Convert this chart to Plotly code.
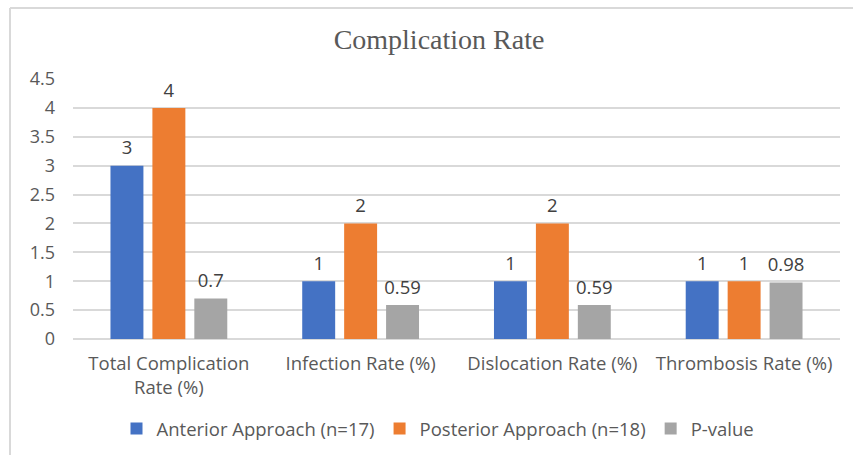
import plotly.graph_objects as go

categories = ["Total Complication<br>Rate (%)", "Infection Rate (%)", "Dislocation Rate (%)", "Thrombosis Rate (%)"]
anterior = [3, 1, 1, 1]
posterior = [4, 2, 2, 1]
p_value = [0.7, 0.59, 0.59, 0.98]
series_names = ["Anterior Approach (n=17)", "Posterior Approach (n=18)", "P-value"]
colors = ["#4472C4", "#ED7D31", "#A5A5A5"]
y_ticks = [0, 0.5, 1, 1.5, 2, 2.5, 3, 3.5, 4, 4.5]

W, H = 853, 455
ML, MR, MT, MB = 73, 13, 79, 116
PW, PH = W - ML - MR, H - MT - MB

font_main = "Open Sans, Segoe UI, Arial, sans-serif"
FS = 18.5

fig = go.Figure()
all_series = [anterior, posterior, p_value]
for name, vals, col in zip(series_names, all_series, colors):
    fig.add_trace(go.Bar(
        x=categories, y=vals, name=name, marker=dict(color=col, line=dict(width=0)),
        offsetgroup=name,
    ))
# value labels, placed with the grouped scatter so they sit above each bar
for name, vals in zip(series_names, all_series):
    fig.add_trace(go.Scatter(
        x=categories, y=vals, mode="markers+text", text=[f"{v:g}" for v in vals],
        textposition="top center", offsetgroup=name, showlegend=False, hoverinfo="skip",
        marker=dict(size=9, opacity=0),
        textfont=dict(family=font_main, size=FS, color="#404040"),
        cliponaxis=False,
    ))

fig.update_layout(
    width=W, height=H,
    margin=dict(l=ML, r=MR, t=MT, b=MB, autoexpand=False),
    paper_bgcolor="white", plot_bgcolor="white",
    barmode="group", scattermode="group",
    bargap=0.344, bargroupgap=0.214, scattergap=0.344,
    title=dict(text="Complication Rate", x=439 / W, xanchor="center", y=1 - 39 / H, yanchor="middle",
               font=dict(family="Liberation Serif, Times New Roman, serif", size=28, color="#595959")),
    font=dict(family=font_main, size=FS, color="#595959"),
    legend=dict(orientation="h", x=(438 - ML) / PW, xanchor="center", y=-(429 - (MT + PH)) / PH, yanchor="middle",
                font=dict(family=font_main, size=FS, color="#595959"), traceorder="normal",
                itemwidth=30),
    showlegend=True,
)
fig.update_xaxes(showgrid=False, showline=False, ticks="", ticklabelstandoff=11,
                 tickfont=dict(size=FS, color="#595959"))
fig.update_yaxes(range=[0, 4.5], tickvals=y_ticks, ticktext=[f"{v:g}" for v in y_ticks],
                 showgrid=True, gridcolor="#D9D9D9", gridwidth=1.5, zeroline=True, zerolinecolor="#D9D9D9",
                 zerolinewidth=1.5, showline=False, ticks="", ticklabelstandoff=17,
                 tickfont=dict(size=18, color="#595959"))

# chart frame (left and top edges visible in the original)
fx0 = (10 - ML) / PW
fy1 = 1 + (MT - 8) / PH
fig.add_shape(type="line", xref="paper", yref="paper", x0=fx0, x1=fx0, y0=-(H - MT - PH) / PH - 0.05, y1=fy1,
              line=dict(color="#D9D9D9", width=2))
fig.add_shape(type="line", xref="paper", yref="paper", x0=fx0, x1=1 + MR / PW + 0.05, y0=fy1, y1=fy1,
              line=dict(color="#D9D9D9", width=2))

fig.write_html("out.html", config={"displayModeBar": False},
               post_script="document.body.style.margin='0';document.body.style.overflow='hidden';")
